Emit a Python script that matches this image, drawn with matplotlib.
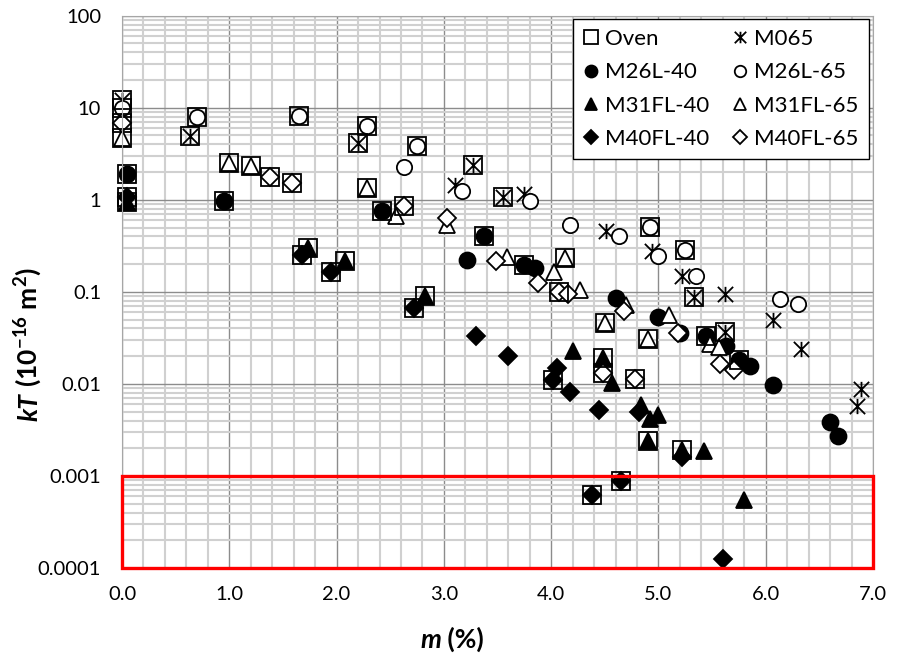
import numpy as np
import matplotlib
matplotlib.use("Agg")
import matplotlib.pyplot as plt
from matplotlib.path import Path
from matplotlib.patches import Rectangle
from matplotlib.ticker import MultipleLocator, LogLocator, NullFormatter

# data: m (%) and kT (1e-16 m2)
oven_m = [0.0, 0.0, 0.0, 0.0, 0.05, 0.05, 0.05, 0.63, 0.70, 0.95, 1.0, 1.2, 1.38, 1.58,
          1.65, 1.675, 1.73, 1.95, 2.08, 2.2, 2.28, 2.28, 2.42, 2.625, 2.75, 2.725, 2.82,
          3.275, 3.55, 3.37, 3.75, 4.13, 4.07, 4.92, 5.25, 5.33, 4.5, 4.9, 4.02, 4.48,
          4.48, 4.78, 4.9, 5.22, 4.38, 4.65, 5.44, 5.62, 5.75]
oven_kt = [12, 10, 6.8, 4.7, 1.9, 1.08, 0.95, 4.9, 7.9, 0.98, 2.5, 2.33, 1.77, 1.54,
           8.15, 0.25, 0.30, 0.166, 0.217, 4.1, 6.4, 1.36, 0.76, 0.86, 3.8, 0.067, 0.091,
           2.39, 1.08, 0.40, 0.196, 0.233, 0.099, 0.51, 0.286, 0.089, 0.046, 0.031, 0.011, 0.019,
           0.0131, 0.0114, 0.0024, 0.0019, 0.000625, 0.00089, 0.033, 0.037, 0.0183]

m065_m = [0.0, 0.63, 2.2, 3.1, 3.275, 3.55, 3.75, 4.51, 4.94, 5.22, 5.33, 5.62, 5.62,
          6.07, 6.33, 6.85, 6.89]
m065_kt = [12, 4.9, 4.1, 1.45, 2.39, 1.08, 1.15, 0.46, 0.28, 0.15, 0.089, 0.095, 0.037,
           0.049, 0.024, 0.0057, 0.0088]

m26l40_m = [0.05, 0.95, 2.42, 3.22, 3.37, 3.75, 3.85, 4.6, 5.0, 5.2, 5.44, 5.63, 5.75,
            5.85, 6.07, 6.6, 6.67]
m26l40_kt = [1.9, 0.98, 0.76, 0.222, 0.40, 0.196, 0.183, 0.086, 0.053, 0.036, 0.033, 0.026,
             0.0183, 0.0155, 0.0098, 0.0039, 0.0027]

m26l65_m = [0.0, 0.70, 1.65, 2.28, 2.63, 2.75, 3.17, 3.8, 4.18, 4.63, 4.92, 5.0, 5.25,
            5.35, 6.13, 6.3]
m26l65_kt = [10, 7.9, 8.15, 6.4, 2.26, 3.8, 1.26, 0.98, 0.53, 0.40, 0.51, 0.246, 0.286,
             0.149, 0.084, 0.074]

m31fl40_m = [0.05, 1.73, 2.08, 2.82, 4.2, 4.48, 4.57, 4.84, 4.9, 4.92, 5.0, 5.22, 5.42, 5.8]
m31fl40_kt = [0.95, 0.30, 0.217, 0.091, 0.023, 0.019, 0.0102, 0.0059, 0.0024, 0.0042,
              0.0046, 0.0019, 0.00185, 0.00055]

m31fl65_m = [0.0, 1.0, 1.2, 2.28, 2.55, 3.03, 3.59, 4.03, 4.13, 4.27, 4.5, 4.7, 4.9, 5.1,
             5.48, 5.56]
m31fl65_kt = [4.7, 2.5, 2.33, 1.36, 0.67, 0.53, 0.238, 0.166, 0.233, 0.104, 0.046, 0.072,
              0.031, 0.056, 0.027, 0.025]

m40fl40_m = [0.05, 1.675, 1.95, 2.725, 3.3, 3.6, 4.02, 4.05, 4.18, 4.38, 4.45, 4.65, 4.82,
             5.22, 5.6]
m40fl40_kt = [1.08, 0.25, 0.166, 0.067, 0.033, 0.0199, 0.0111, 0.0149, 0.0081, 0.000625,
              0.0052, 0.00089, 0.005, 0.0016, 0.000126]

m40fl65_m = [0.0, 1.38, 1.58, 2.625, 3.03, 3.49, 3.88, 4.07, 4.16, 4.48, 4.68, 4.78, 5.18,
             5.57, 5.7]
m40fl65_kt = [6.8, 1.77, 1.54, 0.86, 0.64, 0.217, 0.124, 0.099, 0.095, 0.0131, 0.062, 0.0114,
              0.036, 0.0165, 0.0142]

xticks = [0, 1, 2, 3, 4, 5, 6, 7]
xtick_labels = ["0.0", "1.0", "2.0", "3.0", "4.0", "5.0", "6.0", "7.0"]
yticks = [0.0001, 0.001, 0.01, 0.1, 1, 10, 100]
ytick_labels = ["0.0001", "0.001", "0.01", "0.1", "1", "10", "100"]

plt.rcParams['font.family'] = ['Lato', 'DejaVu Sans']

# asterisk: X plus a vertical bar
star = Path([(0, -1), (0, 1), (-1, -1), (1, 1), (-1, 1), (1, -1)],
            [Path.MOVETO, Path.LINETO, Path.MOVETO, Path.LINETO, Path.MOVETO, Path.LINETO])

W, H = 898, 658
fig = plt.figure(figsize=(W / 100, H / 100), dpi=100)
ax = fig.add_axes([0.1359, 0.1368, 0.8363, 0.8393])

kw = dict(linestyle="none", color="black", markeredgewidth=1.3, clip_on=False)
h_m065, = ax.plot(m065_m, m065_kt, marker=star, ms=11, fillstyle="none", label="M065", **kw)
h_26l40, = ax.plot(m26l40_m, m26l40_kt, marker="o", ms=11.5, label="M26L-40", **kw)
h_31fl40, = ax.plot(m31fl40_m, m31fl40_kt, marker="^", ms=11.5, label="M31FL-40", **kw)
h_40fl40, = ax.plot(m40fl40_m, m40fl40_kt, marker="D", ms=9.5, label="M40FL-40", **kw)
h_26l65, = ax.plot(m26l65_m, m26l65_kt, marker="o", ms=11, markerfacecolor="white",
                   label="M26L-65", **kw)
h_31fl65, = ax.plot(m31fl65_m, m31fl65_kt, marker="^", ms=11.5, markerfacecolor="white",
                    label="M31FL-65", **kw)
h_40fl65, = ax.plot(m40fl65_m, m40fl65_kt, marker="D", ms=9.5, markerfacecolor="white",
                    label="M40FL-65", **kw)
h_oven, = ax.plot(oven_m, oven_kt, marker="s", ms=13, markerfacecolor="none",
                  label="Oven", **kw)

ax.add_patch(Rectangle((0, 0.0001), 7, 0.0009, fill=False, edgecolor="#ff0000",
                       linewidth=2.4, clip_on=False, zorder=5))

ax.set_yscale("log")
ax.set_xlim(0, 7)
ax.set_ylim(0.0001, 100)
ax.set_xticks(xticks, xtick_labels)
ax.set_yticks(yticks, ytick_labels)
ax.xaxis.set_minor_locator(MultipleLocator(0.2))
ax.yaxis.set_minor_locator(LogLocator(base=10, subs=np.arange(2, 10)))
ax.yaxis.set_minor_formatter(NullFormatter())
ax.tick_params(which="both", length=0, labelsize=14.5)
ax.tick_params(axis="y", pad=15)
ax.tick_params(axis="x", pad=13)
ax.grid(which="major", color="#8c8c8c", linewidth=1.0)
ax.grid(which="minor", color="#d0d0d0", linewidth=1.5)
ax.set_axisbelow(True)
for sp in ax.spines.values():
    sp.set_color("#a6a6a6")

leg = ax.legend(handles=[h_oven, h_26l40, h_31fl40, h_40fl40, h_m065, h_26l65, h_31fl65, h_40fl65],
                ncol=2, loc="upper right", bbox_to_anchor=(0.994, 0.994), borderaxespad=0,
                fontsize=16, markerscale=0.75, handlelength=0.7, handletextpad=0.3,
                columnspacing=1.0, labelspacing=0.6, fancybox=False, framealpha=1,
                edgecolor="black", borderpad=0.45)
leg.get_frame().set_linewidth(1.0)

# axis titles: italic symbol + bold rest, laid out piece by piece
r = fig.canvas.get_renderer()
tfont = dict(fontsize=19, fontweight="bold")


def width_px(s, **k):
    t = fig.text(0, 0, s, **k)
    w = t.get_window_extent(r).width
    t.remove()
    return w


# x title "m (%)", centred near x=452 px, baseline at y=648 px
xa, xb = "m", " (%)"
wa = width_px(xa, style="italic", **tfont)
wb = width_px(xb, **tfont)
x0 = 452 - (wa + wb) / 2
yb = 1 - 648 / H
fig.text(x0 / W, yb, xa, style="italic", ha="left", va="baseline", **tfont)
fig.text((x0 + wa) / W, yb, xb, ha="left", va="baseline", **tfont)

# y title "kT (10^-16 m^2)", rotated, baseline at x=37 px, centred near y=344 px
ya, yb2 = "kT", r" (10$^{\mathdefault{-16}}$ m$^{\mathdefault{2}}$)"
wa = width_px(ya, style="italic", **tfont)
wb = width_px(yb2, **tfont)
ystart = 344 + (wa + wb) / 2
xb0 = 37 / W
fig.text(xb0, 1 - ystart / H, ya, style="italic", rotation=90, rotation_mode="anchor",
         ha="left", va="baseline", **tfont)
fig.text(xb0, 1 - (ystart - wa) / H, yb2, rotation=90, rotation_mode="anchor",
         ha="left", va="baseline", **tfont)

fig.savefig("out.png", dpi=100)
